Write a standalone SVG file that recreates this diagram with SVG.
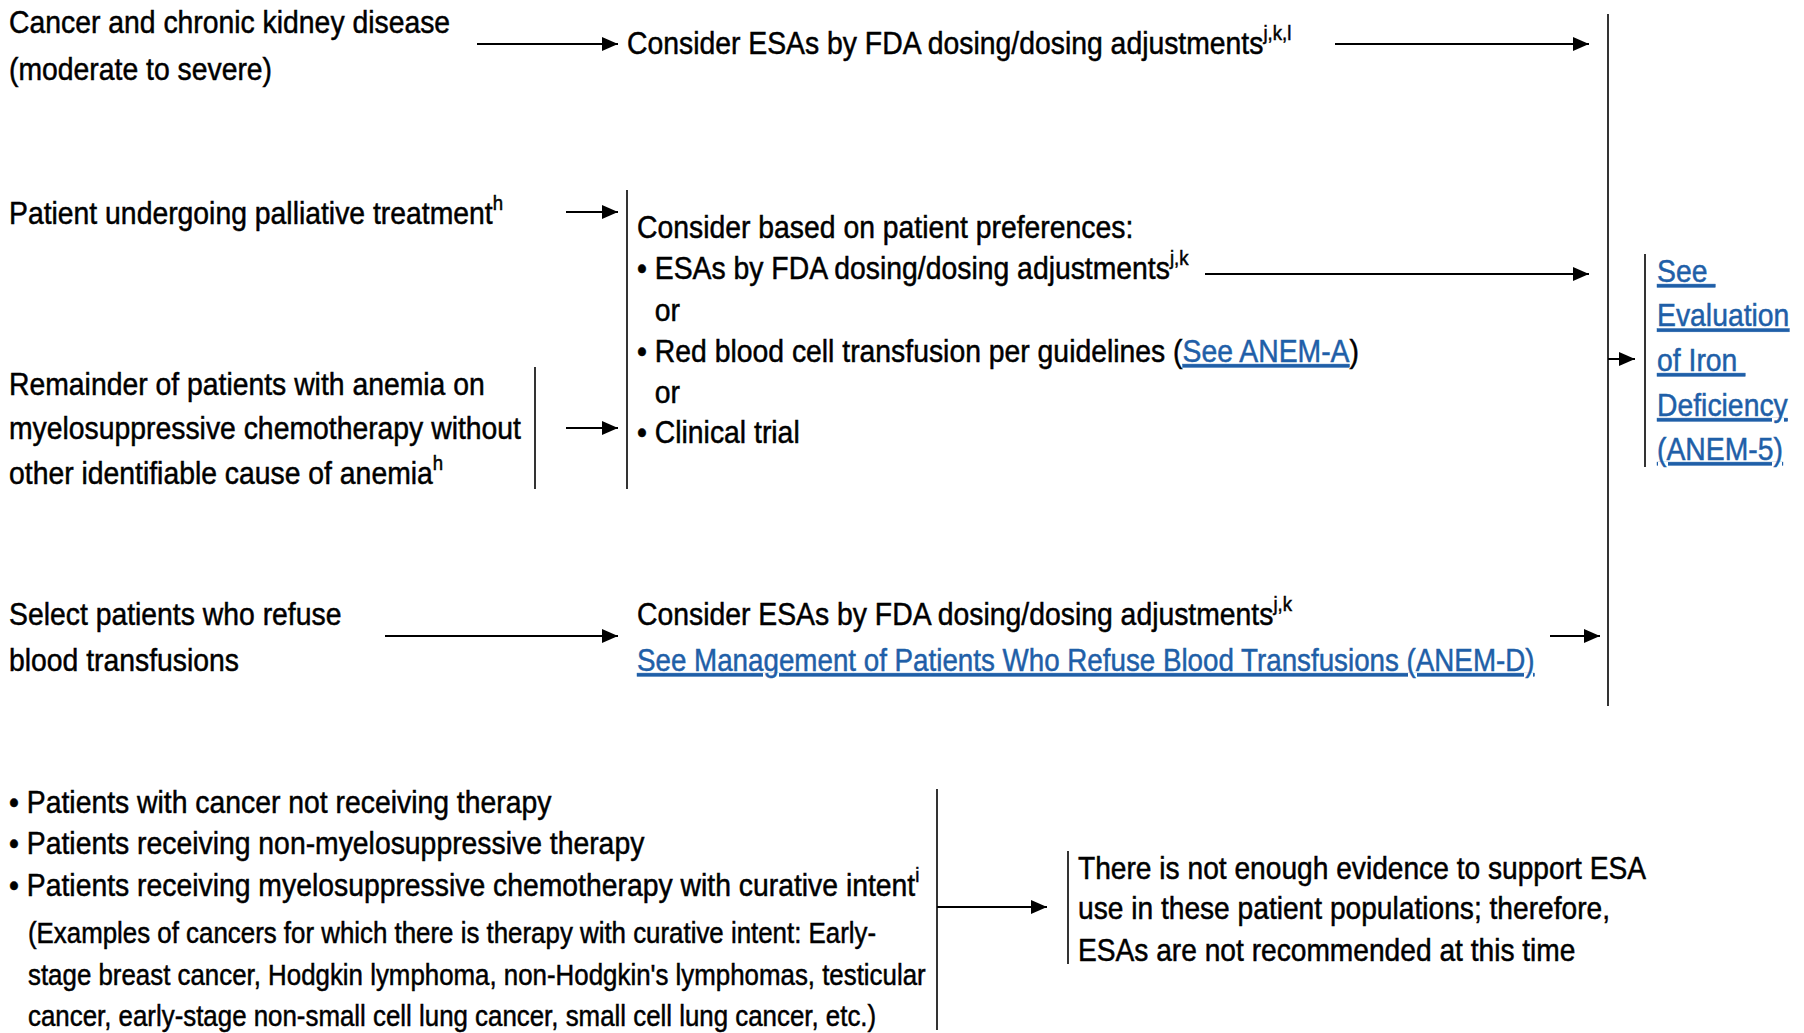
<svg xmlns="http://www.w3.org/2000/svg" width="1804" height="1033" viewBox="0 0 1804 1033">
<defs>
<style>
text{font-family:"Liberation Sans",Arial,sans-serif;font-size:32px;fill:#000;stroke:#000;stroke-width:0.5;white-space:pre}
.sm{font-size:29.2px}
.sup{font-size:21px}
.lnk{fill:#1f5fa8;stroke:#1f5fa8;text-decoration:underline}
.bar{stroke:#000;stroke-width:1.6;fill:none}
.con{stroke:#000;stroke-width:2;fill:none;marker-end:url(#ah)}
</style>
<marker id="ah" markerUnits="userSpaceOnUse" markerWidth="18" markerHeight="16" refX="16" refY="7" orient="auto">
<path d="M0,0 L16,7 L0,14 Z" fill="#000"/>
</marker>
</defs>
<rect width="1804" height="1033" fill="#fff"/>

<g id="n-ckd">
<text transform="translate(9,0) scale(0.886,1)"><tspan x="0" y="33">Cancer and chronic kidney disease</tspan><tspan x="0" y="80">(moderate to severe)</tspan></text>
</g>

<g id="n-ckd-esa">
<text transform="translate(627,0) scale(0.886,1)"><tspan x="0" y="54">Consider ESAs by FDA dosing/dosing adjustments</tspan><tspan class="sup" dy="-14">j,k,l</tspan></text>
</g>

<g id="n-palliative">
<text transform="translate(9,0) scale(0.886,1)"><tspan x="0" y="224">Patient undergoing palliative treatment</tspan><tspan class="sup" dy="-14">h</tspan></text>
</g>

<g id="n-remainder">
<text transform="translate(9,0) scale(0.886,1)"><tspan x="0" y="395">Remainder of patients with anemia on</tspan><tspan x="0" y="439">myelosuppressive chemotherapy without</tspan><tspan x="0" y="484">other identifiable cause of anemia</tspan><tspan class="sup" dy="-14">h</tspan></text>
<line class="bar" x1="535" y1="367" x2="535" y2="489"/>
</g>

<g id="n-preferences">
<line class="bar" x1="627" y1="190" x2="627" y2="489"/>
<text transform="translate(637,0) scale(0.886,1)"><tspan x="0" y="238">Consider based on patient preferences:</tspan><tspan x="0" y="279.5">• ESAs by FDA dosing/dosing adjustments</tspan><tspan class="sup" dy="-14">j,k</tspan><tspan x="20" y="321">or</tspan><tspan x="0" y="362">• Red blood cell transfusion per guidelines (</tspan><tspan class="lnk">See ANEM-A</tspan><tspan>)</tspan><tspan x="20" y="403">or</tspan><tspan x="0" y="443">• Clinical trial</tspan></text>
</g>

<g id="n-refuse">
<text transform="translate(9,0) scale(0.886,1)"><tspan x="0" y="625">Select patients who refuse</tspan><tspan x="0" y="671">blood transfusions</tspan></text>
</g>

<g id="n-refuse-esa">
<text transform="translate(637,0) scale(0.886,1)"><tspan x="0" y="625">Consider ESAs by FDA dosing/dosing adjustments</tspan><tspan class="sup" dy="-14">j,k</tspan></text>
<text class="lnk" transform="translate(637,0) scale(0.886,1)" x="0" y="671" textLength="1013" lengthAdjust="spacingAndGlyphs">See Management of Patients Who Refuse Blood Transfusions (ANEM-D)</text>
</g>

<g id="n-iron">
<line class="bar" x1="1608" y1="14" x2="1608" y2="706"/>
<line class="bar" x1="1645" y1="254" x2="1645" y2="467"/>
<text class="lnk" transform="translate(1657,0) scale(0.886,1)"><tspan x="0" y="282">See </tspan><tspan x="0" y="326.5">Evaluation</tspan><tspan x="0" y="371">of Iron </tspan><tspan x="0" y="416">Deficiency</tspan><tspan x="0" y="460">(ANEM-5)</tspan></text>
</g>

<g id="n-nottreated">
<text transform="translate(9,0) scale(0.886,1)"><tspan x="0" y="813">• Patients with cancer not receiving therapy</tspan><tspan x="0" y="854.5">• Patients receiving non-myelosuppressive therapy</tspan><tspan x="0" y="896">• Patients receiving myelosuppressive chemotherapy with curative intent</tspan><tspan class="sup" dy="-14">i</tspan></text>
<text class="sm" transform="translate(28,0) scale(0.886,1)"><tspan x="0" y="943">(Examples of cancers for which there is therapy with curative intent: Early-</tspan><tspan x="0" y="985">stage breast cancer, Hodgkin lymphoma, non-Hodgkin's lymphomas, testicular</tspan><tspan x="0" y="1026">cancer, early-stage non-small cell lung cancer, small cell lung cancer, etc.)</tspan></text>
<line class="bar" x1="937" y1="789" x2="937" y2="1030"/>
</g>

<g id="n-noesa">
<line class="bar" x1="1068" y1="851" x2="1068" y2="964"/>
<text transform="translate(1078,0) scale(0.88,1)"><tspan x="0" y="879">There is not enough evidence to support ESA</tspan><tspan x="0" y="919.5">use in these patient populations; therefore,</tspan><tspan x="0" y="961">ESAs are not recommended at this time</tspan></text>
</g>

<g id="connectors">
<line class="con" x1="477" y1="44" x2="618" y2="44"/>
<line class="con" x1="1335" y1="44" x2="1589" y2="44"/>
<line class="con" x1="566" y1="212" x2="618" y2="212"/>
<line class="con" x1="566" y1="428" x2="618" y2="428"/>
<line class="con" x1="1205" y1="274" x2="1589" y2="274"/>
<line class="con" x1="1608" y1="359" x2="1635" y2="359"/>
<line class="con" x1="385" y1="636" x2="618" y2="636"/>
<line class="con" x1="1550" y1="636" x2="1600" y2="636"/>
<line class="con" x1="937" y1="907" x2="1047" y2="907"/>
</g>
</svg>
